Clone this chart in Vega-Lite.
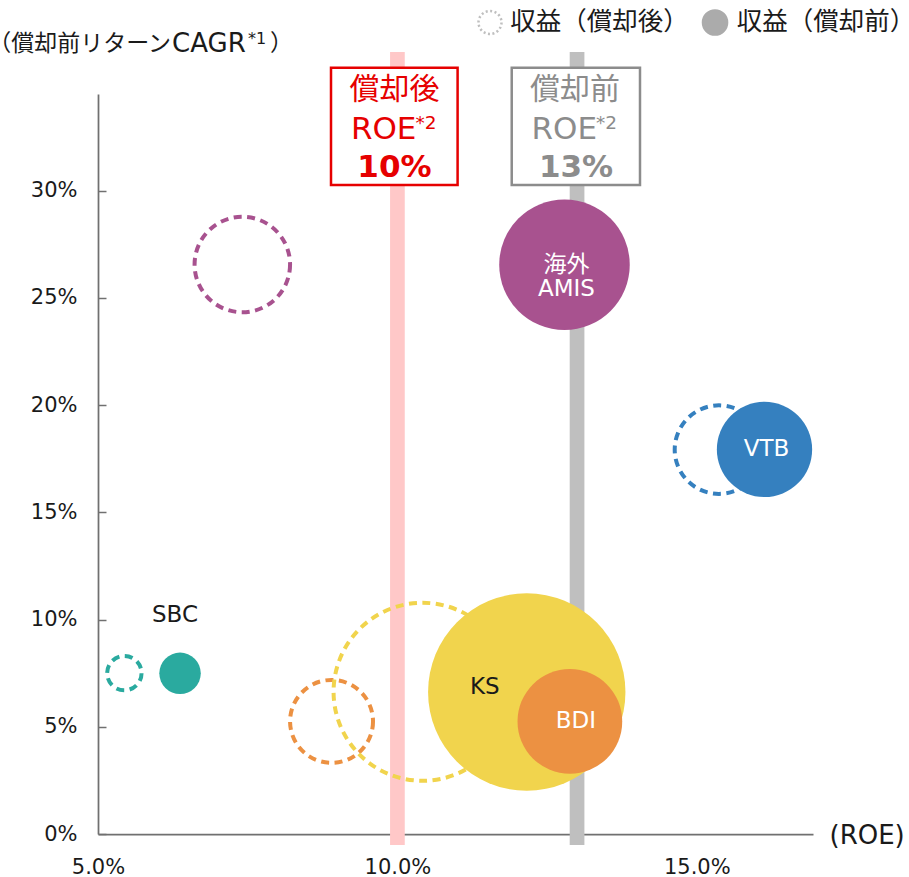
{
  "$schema": "https://vega.github.io/schema/vega-lite/v6.json",
  "width": 715,
  "height": 740,
  "autosize": {"type": "none"},
  "padding": {"left": 98, "top": 94, "right": 96, "bottom": 43},
  "background": "white",
  "config": {"view": {"stroke": null}, "font": "DejaVu Sans, Noto Sans CJK JP"},
  "datasets": {
    "bubbles": [
      {"company": "SBC", "basis": "償却後", "roe": 5.44, "cagr": 7.5, "revenue": 2.96},
      {"company": "BDI", "basis": "償却後", "roe": 8.9, "cagr": 5.25, "revenue": 17.2},
      {"company": "KS", "basis": "償却後", "roe": 10.42, "cagr": 6.63, "revenue": 79.2},
      {"company": "海外\nAMIS", "basis": "償却後", "roe": 7.41, "cagr": 26.55, "revenue": 22.8},
      {"company": "VTB", "basis": "償却後", "roe": 15.37, "cagr": 17.92, "revenue": 19.6},
      {"company": "海外\nAMIS", "basis": "償却前", "roe": 12.79, "cagr": 26.54, "revenue": 42.6},
      {"company": "VTB", "basis": "償却前", "roe": 16.13, "cagr": 17.93, "revenue": 22.7},
      {"company": "KS", "basis": "償却前", "roe": 12.16, "cagr": 6.62, "revenue": 97.4},
      {"company": "BDI", "basis": "償却前", "roe": 12.88, "cagr": 5.25, "revenue": 27.4},
      {"company": "SBC", "basis": "償却前", "roe": 6.37, "cagr": 7.49, "revenue": 4.3}
    ],
    "roeLines": [
      {"basis": "償却後", "roe": 10},
      {"basis": "償却前", "roe": 13}
    ]
  },
  "layer": [
    {
      "data": {"name": "roeLines"},
      "transform": [{"filter": "datum.basis === '償却後'"}],
      "mark": {"type": "rule", "color": "#FFC8C8", "strokeWidth": 14.7},
      "encoding": {
        "x": {
          "field": "roe", "type": "quantitative",
          "scale": {"domain": [5, 16.94], "nice": false, "zero": false},
          "axis": {
            "values": [5, 10, 15],
            "labelExpr": "format(datum.value, '.1f') + '%'",
            "title": "(ROE)", "titleX": 731, "titleY": 1, "titleAlign": "left", "titleBaseline": "middle",
            "titleFontSize": 26, "titleFontWeight": "normal", "titleFont": "DejaVu Sans", "titleColor": "#1a1a1a",
            "ticks": false, "grid": false, "domainColor": "#707070", "domainWidth": 1.75,
            "labelPadding": 22, "labelFontSize": 21, "labelFont": "DejaVu Sans", "labelColor": "#1a1a1a",
            "labelFlush": false, "labelOverlap": false
          }
        },
        "y": {
          "datum": -0.51,
          "type": "quantitative",
          "scale": {"domain": [0, 34.5], "nice": false, "zero": true},
          "axis": {
            "values": [0, 5, 10, 15, 20, 25, 30],
            "labelExpr": "datum.value + '%'",
            "title": null, "grid": false, "domainColor": "#707070", "domainWidth": 1.75,
            "tickColor": "#707070", "tickWidth": 1.5, "tickSize": -8, "labelPadding": 29,
            "labelFontSize": 21, "labelFont": "DejaVu Sans", "labelColor": "#1a1a1a", "labelOverlap": false
          }
        },
        "y2": {"datum": 36.46}
      }
    },
    {
      "data": {"name": "roeLines"},
      "transform": [{"filter": "datum.basis === '償却前'"}],
      "mark": {"type": "rule", "color": "#BFBFBF", "strokeWidth": 14.7},
      "encoding": {
        "x": {"field": "roe", "type": "quantitative"},
        "y": {"datum": -0.51, "type": "quantitative"},
        "y2": {"datum": 36.46}
      }
    },
    {
      "data": {"name": "bubbles"},
      "transform": [{"filter": "datum.basis === '償却後'"}],
      "mark": {"type": "point", "shape": "circle", "filled": false, "opacity": 1, "strokeWidth": 4, "strokeDash": [8, 5.5]},
      "encoding": {
        "x": {"field": "roe", "type": "quantitative"},
        "y": {"field": "cagr", "type": "quantitative"},
        "color": {
          "field": "company", "type": "nominal",
          "scale": {"domain": ["SBC", "BDI", "KS", "海外\nAMIS", "VTB"], "range": ["#2AAA9F", "#EC9142", "#F1D44D", "#A8528F", "#3580BF"]},
          "legend": null
        },
        "size": {
          "field": "revenue", "type": "quantitative",
          "scale": {"type": "linear", "domain": [0, 100], "range": [0, 40000], "zero": true},
          "legend": null
        }
      }
    },
    {
      "data": {"name": "bubbles"},
      "transform": [{"filter": "datum.basis === '償却前'"}],
      "mark": {"type": "point", "shape": "circle", "filled": true, "opacity": 1, "strokeWidth": 0},
      "encoding": {
        "x": {"field": "roe", "type": "quantitative"},
        "y": {"field": "cagr", "type": "quantitative"},
        "color": {"field": "company", "type": "nominal", "legend": null},
        "size": {"field": "revenue", "type": "quantitative", "legend": null}
      }
    },
    {
      "data": {"name": "bubbles"},
      "transform": [{"filter": "datum.basis === '償却前' && (datum.company === 'VTB' || datum.company === '海外\\nAMIS')"}],
      "mark": {"type": "text", "color": "white", "fontSize": 23, "font": "DejaVu Sans, Noto Sans CJK JP", "lineBreak": "\n", "lineHeight": 24, "baseline": "middle", "align": "center", "dx": 2},
      "encoding": {
        "x": {"field": "roe", "type": "quantitative"},
        "y": {"field": "cagr", "type": "quantitative"},
        "text": {"field": "company"}
      }
    },
    {
      "data": {"name": "bubbles"},
      "transform": [{"filter": "datum.basis === '償却前' && datum.company === 'BDI'"}],
      "mark": {"type": "text", "color": "white", "fontSize": 23, "font": "DejaVu Sans", "baseline": "middle", "align": "center", "dx": 6},
      "encoding": {
        "x": {"field": "roe", "type": "quantitative"},
        "y": {"field": "cagr", "type": "quantitative"},
        "text": {"field": "company"}
      }
    },
    {
      "data": {"name": "bubbles"},
      "transform": [{"filter": "datum.basis === '償却前' && datum.company === 'KS'"}],
      "mark": {"type": "text", "color": "#1a1a1a", "fontSize": 23, "font": "DejaVu Sans", "baseline": "middle", "align": "center", "dx": -42, "dy": -5},
      "encoding": {
        "x": {"field": "roe", "type": "quantitative"},
        "y": {"field": "cagr", "type": "quantitative"},
        "text": {"field": "company"}
      }
    },
    {
      "data": {"name": "bubbles"},
      "transform": [{"filter": "datum.basis === '償却前' && datum.company === 'SBC'"}],
      "mark": {"type": "text", "color": "#1a1a1a", "fontSize": 23, "font": "DejaVu Sans", "baseline": "middle", "align": "center", "dx": -5, "dy": -58},
      "encoding": {
        "x": {"field": "roe", "type": "quantitative"},
        "y": {"field": "cagr", "type": "quantitative"},
        "text": {"field": "company"}
      }
    },
    {
      "data": {"values": [{}]},
      "mark": {"type": "rect", "fill": "white", "stroke": "#E60000", "strokeWidth": 2.5},
      "encoding": {"x": {"datum": 8.891}, "x2": {"datum": 11.005}, "y": {"datum": 35.727}, "y2": {"datum": 30.258}}
    },
    {
      "data": {"values": [{}]},
      "mark": {"type": "rect", "fill": "white", "stroke": "#8C8C8C", "strokeWidth": 2.5},
      "encoding": {"x": {"datum": 11.909}, "x2": {"datum": 14.051}, "y": {"datum": 35.727}, "y2": {"datum": 30.258}}
    },
    {
      "data": {"values": [{}]},
      "mark": {"type": "text", "text": "償却後", "font": "Noto Sans CJK JP", "fontSize": 30, "color": "#E60000", "align": "center", "baseline": "middle", "dx": -3},
      "encoding": {"x": {"datum": 10}, "y": {"datum": 34.68}}
    },
    {
      "data": {"values": [{}]},
      "mark": {"type": "text", "text": "ROE", "font": "DejaVu Sans", "fontSize": 31, "color": "#E60000", "align": "right", "baseline": "middle", "dx": 19},
      "encoding": {"x": {"datum": 10}, "y": {"datum": 32.8}}
    },
    {
      "data": {"values": [{}]},
      "mark": {"type": "text", "text": "*2", "font": "DejaVu Sans", "fontSize": 18.5, "color": "#E60000", "align": "left", "baseline": "middle", "dx": 18, "dy": -7},
      "encoding": {"x": {"datum": 10}, "y": {"datum": 32.8}}
    },
    {
      "data": {"values": [{}]},
      "mark": {"type": "text", "text": "10%", "font": "DejaVu Sans", "fontWeight": "bold", "fontSize": 31, "color": "#E60000", "align": "center", "baseline": "middle", "dx": -3},
      "encoding": {"x": {"datum": 10}, "y": {"datum": 31.04}}
    },
    {
      "data": {"values": [{}]},
      "mark": {"type": "text", "text": "償却前", "font": "Noto Sans CJK JP", "fontSize": 30, "color": "#8C8C8C", "align": "center", "baseline": "middle", "dx": -2},
      "encoding": {"x": {"datum": 13}, "y": {"datum": 34.68}}
    },
    {
      "data": {"values": [{}]},
      "mark": {"type": "text", "text": "ROE", "font": "DejaVu Sans", "fontSize": 31, "color": "#8C8C8C", "align": "right", "baseline": "middle", "dx": 20},
      "encoding": {"x": {"datum": 13}, "y": {"datum": 32.8}}
    },
    {
      "data": {"values": [{}]},
      "mark": {"type": "text", "text": "*2", "font": "DejaVu Sans", "fontSize": 18.5, "color": "#8C8C8C", "align": "left", "baseline": "middle", "dx": 19, "dy": -7},
      "encoding": {"x": {"datum": 13}, "y": {"datum": 32.8}}
    },
    {
      "data": {"values": [{}]},
      "mark": {"type": "text", "text": "13%", "font": "DejaVu Sans", "fontWeight": "bold", "fontSize": 31, "color": "#8C8C8C", "align": "center", "baseline": "middle", "dx": -1},
      "encoding": {"x": {"datum": 13}, "y": {"datum": 31.04}}
    },
    {
      "data": {"values": [{}]},
      "mark": {"type": "point", "shape": "circle", "filled": false, "opacity": 1, "stroke": "#BFBFBF", "strokeWidth": 2.5, "strokeDash": [2, 2.5], "size": 529},
      "encoding": {"x": {"datum": 11.546}, "y": {"datum": 37.834}}
    },
    {
      "data": {"values": [{}]},
      "mark": {"type": "text", "text": "収益（償却後）", "font": "Noto Sans CJK JP", "fontSize": 25.5, "color": "#1a1a1a", "align": "left", "baseline": "middle"},
      "encoding": {"x": {"datum": 11.884}, "y": {"datum": 37.834}}
    },
    {
      "data": {"values": [{}]},
      "mark": {"type": "point", "shape": "circle", "filled": true, "opacity": 1, "color": "#ABABAB", "size": 708},
      "encoding": {"x": {"datum": 15.304}, "y": {"datum": 37.834}}
    },
    {
      "data": {"values": [{}]},
      "mark": {"type": "text", "text": "収益（償却前）", "font": "Noto Sans CJK JP", "fontSize": 25.5, "color": "#1a1a1a", "align": "left", "baseline": "middle"},
      "encoding": {"x": {"datum": 15.667}, "y": {"datum": 37.834}}
    },
    {
      "data": {"values": [{}]},
      "mark": {"type": "text", "text": "（償却前リターン", "font": "Noto Sans CJK JP", "fontSize": 23, "color": "#1a1a1a", "align": "right", "baseline": "middle", "dx": 73},
      "encoding": {"x": {"datum": 5}, "y": {"datum": 36.83}}
    },
    {
      "data": {"values": [{}]},
      "mark": {"type": "text", "text": "CAGR", "font": "DejaVu Sans", "fontSize": 26, "color": "#1a1a1a", "align": "left", "baseline": "middle", "dx": 74},
      "encoding": {"x": {"datum": 5}, "y": {"datum": 36.83}}
    },
    {
      "data": {"values": [{}]},
      "mark": {"type": "text", "text": "*1", "font": "DejaVu Sans", "fontSize": 16, "color": "#1a1a1a", "align": "left", "baseline": "middle", "dx": 150, "dy": -5},
      "encoding": {"x": {"datum": 5}, "y": {"datum": 36.83}}
    },
    {
      "data": {"values": [{}]},
      "mark": {"type": "text", "text": "）", "font": "Noto Sans CJK JP", "fontSize": 23, "color": "#1a1a1a", "align": "left", "baseline": "middle", "dx": 172},
      "encoding": {"x": {"datum": 5}, "y": {"datum": 36.83}}
    }
  ]
}
